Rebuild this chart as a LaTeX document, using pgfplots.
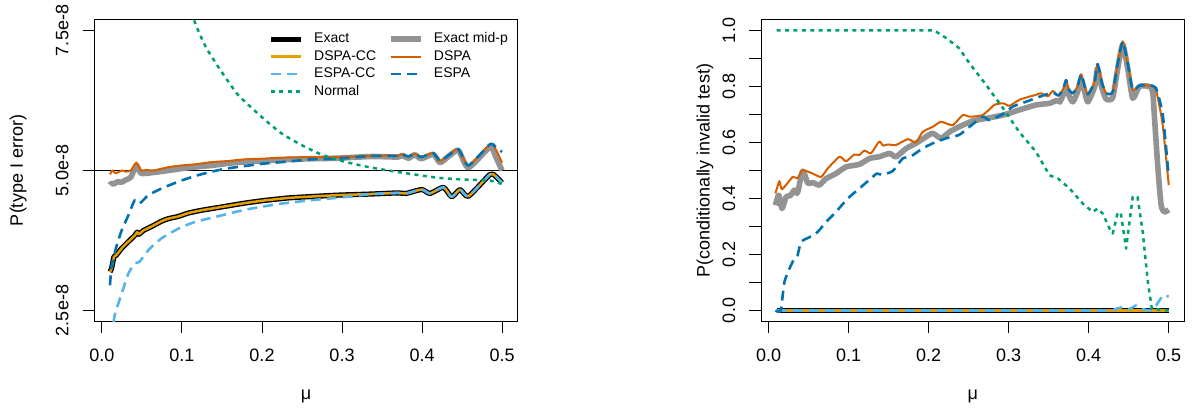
\documentclass[border=0pt]{standalone}
\usepackage{fontspec}
\setmainfont{Liberation Sans}
\usepackage{pgfplots}
\pgfplotsset{compat=1.18}
\definecolor{cdspacc}{HTML}{E69F00}
\definecolor{cdspa}{HTML}{D55E00}
\definecolor{cespacc}{HTML}{56B4E9}
\definecolor{cespa}{HTML}{0072B2}
\definecolor{cnormal}{HTML}{009E73}
\definecolor{cmidp}{HTML}{939393}
\pgfplotsset{
  panel/.style={
    scale only axis, width=211.7pt, height=151.2pt,
    xmin=-0.0096, xmax=0.5196,
    xtick={0,0.1,0.2,0.3,0.4,0.5},
    xticklabels={0.0,0.1,0.2,0.3,0.4,0.5},
    tick align=outside, tick pos=left,
    major tick length=5.8pt, minor tick length=5.8pt,
    axis line style={line width=0.5pt},
    every tick/.style={black, line width=0.5pt},
    tick label style={font=\fontsize{9}{10}\selectfont},
    xticklabel style={anchor=center},
    xticklabel shift=10.85pt,
    yticklabel style={rotate=90, anchor=center},
    yticklabel shift=10.3pt,
    xlabel={μ},
    xlabel style={at={(axis description cs:0.5,-0.248)}, anchor=center, font=\fontsize{9}{10}\selectfont},
    label style={font=\fontsize{9}{10}\selectfont},
  },
  cexact/.style={black, line width=2.6pt, line join=round, forget plot},
  cmid/.style={cmidp, line width=2.8pt, line join=round, forget plot},
  cdcc/.style={cdspacc, line width=1.25pt, line join=round, forget plot},
  cd/.style={cdspa, line width=1pt, line join=round, forget plot},
  cecc/.style={cespacc, line width=1.3pt, dash pattern=on 5pt off 3pt, line join=round, forget plot},
  ce/.style={cespa, line width=1.3pt, dash pattern=on 5pt off 3pt, line join=round, forget plot},
  cn/.style={cnormal, line width=1.25pt, dash pattern=on 2pt off 2.2pt, line join=round, forget plot},
}
\begin{document}
\begin{tikzpicture}
\path[use as bounding box] (0,0) rectangle (596pt,205pt);
% ---------------- left panel ----------------
\begin{axis}[panel,
  at={(47.15pt,44.15pt)}, anchor=south west,
  ymin=2.3, ymax=7.7,
  ytick={2.5,5,7.5}, yticklabels={2.5e-8,5.0e-8,7.5e-8},
  ylabel={P(type I error)},
  ylabel style={at={(axis description cs:-0.1795,0.5)}, rotate=0, anchor=center},
  legend columns=2,
  legend cell align=left,
  legend image code/.code={\draw[#1] (0pt,0pt) -- (15pt,0pt);},
  legend style={at={(axis description cs:0.396,0.976)}, anchor=north west,
    draw=none, fill=none, font=\fontsize{7}{8}\selectfont,
    nodes={inner sep=0.8pt, text height=5.2pt, text depth=1.5pt},
    row sep=0.4pt,
    /tikz/every odd column/.append style={column sep=4.5pt},
    /tikz/every even column/.append style={column sep=5pt}},
]
\addlegendimage{black, line width=2.6pt}
\addlegendentry{Exact}
\addlegendimage{cmidp, line width=2.8pt}
\addlegendentry{Exact mid-p}
\addlegendimage{cdspacc, line width=1.25pt}
\addlegendentry{DSPA-CC}
\addlegendimage{cdspa, line width=1pt}
\addlegendentry{DSPA}
\addlegendimage{cespacc, line width=1.3pt, dash pattern=on 5pt off 3pt}
\addlegendentry{ESPA-CC}
\addlegendimage{cespa, line width=1.3pt, dash pattern=on 5pt off 3pt}
\addlegendentry{ESPA}
\addlegendimage{cnormal, line width=1.25pt, dash pattern=on 2pt off 2.2pt}
\addlegendentry{Normal}

\addplot[black, line width=0.5pt, forget plot] coordinates {(-0.02,5) (0.53,5)};

% Exact
\addplot[cexact, smooth, tension=0.35] coordinates {
(0.01,3.19) (0.012,3.25) (0.015,3.46) (0.018,3.49) (0.0246,3.61) (0.033,3.73) (0.041,3.84) (0.044,3.90) (0.046,3.86) (0.052,3.93) (0.062,4.00) (0.0746,4.095) (0.083,4.14) (0.0954,4.18) (0.108,4.24) (0.1246,4.29) (0.15,4.35) (0.175,4.41) (0.2,4.46) (0.233,4.51) (0.262,4.535) (0.295,4.56) (0.337,4.58) (0.37,4.60) (0.38,4.59) (0.3996,4.66) (0.41,4.59) (0.4267,4.70) (0.437,4.53) (0.4475,4.66) (0.458,4.54) (0.485,4.93) (0.4917,4.90) (0.5,4.78)};
% Exact mid-p
\addplot[cmid, smooth, tension=0.35] coordinates {
(0.01,4.74) (0.012,4.77) (0.015,4.76) (0.0196,4.80) (0.024,4.79) (0.0296,4.83) (0.036,4.88) (0.043,5.09) (0.0487,4.95) (0.062,4.96) (0.083,5.0) (0.108,5.05) (0.137,5.09) (0.166,5.14) (0.2,5.17) (0.241,5.20) (0.262,5.21) (0.295,5.22) (0.337,5.25) (0.37,5.24) (0.375,5.27) (0.383,5.22) (0.391,5.28) (0.399,5.21) (0.414,5.29) (0.4225,5.14) (0.433,5.25) (0.4454,5.36) (0.458,5.05) (0.485,5.42) (0.492,5.25) (0.5,5.0)};
% DSPA-CC
\addplot[cdcc, smooth, tension=0.35] coordinates {
(0.01,3.19) (0.012,3.25) (0.015,3.46) (0.018,3.49) (0.0246,3.61) (0.033,3.73) (0.041,3.84) (0.044,3.90) (0.046,3.86) (0.052,3.93) (0.062,4.00) (0.0746,4.095) (0.083,4.14) (0.0954,4.18) (0.108,4.24) (0.1246,4.29) (0.15,4.35) (0.175,4.41) (0.2,4.46) (0.233,4.51) (0.262,4.535) (0.295,4.56) (0.337,4.58) (0.37,4.60) (0.38,4.59) (0.3996,4.66) (0.41,4.59) (0.4267,4.70) (0.437,4.53) (0.4475,4.66) (0.458,4.54) (0.485,4.93) (0.4917,4.90) (0.5,4.78)};
% DSPA
\addplot[cd, smooth, tension=0.35] coordinates {
(0.01,4.93) (0.013,5.0) (0.017,4.95) (0.025,5.0) (0.03,4.98) (0.036,5.0) (0.043,5.14) (0.0487,5.0) (0.056,5.01) (0.0646,5.0) (0.083,5.06) (0.0996,5.09) (0.116,5.11) (0.137,5.15) (0.158,5.17) (0.179,5.20) (0.2,5.21) (0.225,5.23) (0.262,5.24) (0.295,5.24) (0.337,5.26) (0.36,5.27) (0.37,5.26) (0.375,5.29) (0.383,5.25) (0.391,5.30) (0.399,5.24) (0.414,5.31) (0.4225,5.17) (0.433,5.27) (0.4454,5.38) (0.458,5.09) (0.485,5.47) (0.492,5.38) (0.5,5.14)};
% ESPA-CC
\addplot[cecc, smooth, tension=0.35] coordinates {
(0.012,2.0) (0.016,2.42) (0.0246,2.80) (0.033,3.16) (0.041,3.34) (0.047,3.37) (0.058,3.58) (0.0746,3.79) (0.0954,3.96) (0.116,4.08) (0.15,4.20) (0.179,4.30) (0.22,4.40) (0.262,4.47) (0.3,4.52) (0.33,4.57) (0.337,4.58) (0.37,4.60) (0.38,4.59) (0.3996,4.66) (0.41,4.59) (0.4267,4.70) (0.437,4.53) (0.4475,4.66) (0.458,4.54) (0.485,4.93) (0.4917,4.90) (0.5,4.78)};
% ESPA
\addplot[ce, smooth, tension=0.35] coordinates {
(0.01,2.95) (0.012,3.28) (0.018,3.64) (0.0246,3.93) (0.033,4.20) (0.041,4.47) (0.047,4.41) (0.058,4.56) (0.0746,4.68) (0.0954,4.80) (0.116,4.90) (0.137,4.98) (0.158,5.04) (0.179,5.08) (0.2,5.12) (0.233,5.16) (0.262,5.20) (0.295,5.21) (0.337,5.26) (0.37,5.26) (0.375,5.29) (0.383,5.25) (0.391,5.30) (0.399,5.24) (0.414,5.31) (0.4225,5.17) (0.433,5.27) (0.4454,5.38) (0.458,5.09) (0.485,5.47) (0.492,5.42) (0.5,5.33)};
% Normal
\addplot[cn, smooth, tension=0.35] coordinates {
(0.10,8.4) (0.116,7.65) (0.13,7.2) (0.15,6.75) (0.17,6.35) (0.19,6.08) (0.204,5.90) (0.2246,5.66) (0.25,5.45) (0.275,5.28) (0.3,5.17) (0.33,5.07) (0.358,5.0) (0.39,4.93) (0.42,4.87) (0.45,4.84) (0.47,4.83) (0.485,4.82) (0.5,4.76)};
\end{axis}
% ---------------- right panel ----------------
\begin{axis}[panel,
  at={(380.5pt,44.15pt)}, anchor=south west,
  ymin=-0.04, ymax=1.04,
  ytick={0,0.2,0.4,0.6,0.8,1.0}, yticklabels={0.0,0.2,0.4,0.6,0.8,1.0},
  minor ytick={0.1,0.3,0.5,0.7,0.9},
  ylabel={P(conditionally invalid test)},
  ylabel style={at={(axis description cs:-0.1323,0.5)}, rotate=0, anchor=center},
]
% Exact
\addplot[cexact] coordinates {(0.01,0) (0.5,0)};
% Exact mid-p
\addplot[cmid, smooth, tension=0.35] coordinates {
(0.0084,0.376) (0.0125,0.412) (0.0167,0.364) (0.0217,0.406) (0.027,0.41) (0.032,0.43) (0.036,0.42) (0.0425,0.498) (0.049,0.454) (0.055,0.457) (0.0634,0.448) (0.0717,0.471) (0.084,0.489) (0.0967,0.513) (0.1134,0.522) (0.126,0.543) (0.138,0.549) (0.151,0.561) (0.159,0.549) (0.172,0.579) (0.184,0.597) (0.197,0.621) (0.205,0.633) (0.2155,0.615) (0.226,0.638) (0.238,0.656) (0.255,0.677) (0.272,0.686) (0.293,0.698) (0.313,0.716) (0.334,0.734) (0.351,0.74) (0.36,0.75) (0.364,0.745) (0.368,0.77) (0.3717,0.80) (0.375,0.77) (0.38,0.745) (0.386,0.78) (0.3905,0.825) (0.395,0.78) (0.399,0.745) (0.4075,0.80) (0.411,0.865) (0.416,0.80) (0.4217,0.755) (0.43,0.76) (0.436,0.86) (0.4425,0.95) (0.449,0.86) (0.455,0.758) (0.4634,0.80) (0.476,0.80) (0.48,0.78) (0.482,0.698) (0.4862,0.519) (0.4905,0.376) (0.4946,0.352) (0.5,0.36)};
% DSPA-CC
\addplot[cdcc] coordinates {(0.01,0) (0.5,0)};
% DSPA
\addplot[cd, smooth, tension=0.35] coordinates {
(0.0084,0.418) (0.0134,0.462) (0.0167,0.433) (0.03,0.477) (0.036,0.472) (0.0425,0.501) (0.055,0.489) (0.0655,0.477) (0.0737,0.507) (0.0884,0.549) (0.0967,0.533) (0.107,0.557) (0.113,0.555) (0.1196,0.571) (0.128,0.562) (0.138,0.603) (0.143,0.589) (0.149,0.593) (0.159,0.591) (0.174,0.612) (0.184,0.600) (0.1925,0.638) (0.205,0.656) (0.2155,0.674) (0.23,0.662) (0.2425,0.698) (0.251,0.692) (0.2675,0.698) (0.282,0.734) (0.293,0.740) (0.301,0.731) (0.313,0.752) (0.326,0.764) (0.334,0.77) (0.34,0.776) (0.349,0.765) (0.355,0.784) (0.362,0.768) (0.368,0.79) (0.3717,0.823) (0.375,0.79) (0.38,0.776) (0.386,0.80) (0.3905,0.844) (0.395,0.80) (0.399,0.772) (0.4075,0.817) (0.411,0.88) (0.416,0.817) (0.4217,0.776) (0.43,0.78) (0.436,0.877) (0.4425,0.961) (0.449,0.877) (0.455,0.788) (0.4634,0.803) (0.476,0.803) (0.484,0.788) (0.4925,0.662) (0.5,0.448)};
% ESPA-CC
\addplot[cecc] coordinates {(0.01,0) (0.43,0) (0.434,0.006) (0.442,0.012) (0.45,0.004) (0.459,0.018) (0.468,0.004) (0.476,0) (0.4843,0.018) (0.4925,0.054) (0.5,0.05)};
% ESPA
\addplot[ce, smooth, tension=0.35] coordinates {
(0.0084,0) (0.015,0) (0.0196,0.101) (0.026,0.15) (0.032,0.185) (0.036,0.196) (0.0405,0.245) (0.051,0.262) (0.061,0.28) (0.0717,0.316) (0.084,0.352) (0.0988,0.40) (0.1134,0.436) (0.13,0.477) (0.135,0.489) (0.142,0.485) (0.155,0.498) (0.1675,0.543) (0.177,0.549) (0.1925,0.579) (0.205,0.597) (0.2217,0.615) (0.238,0.627) (0.251,0.656) (0.2675,0.692) (0.276,0.68) (0.2946,0.704) (0.305,0.728) (0.326,0.75) (0.34,0.765) (0.355,0.778) (0.362,0.768) (0.368,0.79) (0.3717,0.823) (0.375,0.79) (0.38,0.776) (0.386,0.80) (0.3905,0.844) (0.395,0.80) (0.399,0.772) (0.4075,0.817) (0.411,0.88) (0.416,0.817) (0.4217,0.776) (0.43,0.78) (0.436,0.877) (0.4425,0.961) (0.449,0.877) (0.455,0.788) (0.4634,0.803) (0.476,0.803) (0.484,0.795) (0.4925,0.70) (0.4994,0.495)};
% Normal
\addplot[cn] coordinates {
(0.01,1) (0.207,1) (0.2217,0.973) (0.238,0.937) (0.2509,0.883) (0.2717,0.806) (0.293,0.722) (0.313,0.638) (0.334,0.567) (0.351,0.483) (0.3617,0.471) (0.376,0.436) (0.3925,0.382) (0.405,0.352) (0.411,0.364) (0.4175,0.346) (0.426,0.2925) (0.43,0.275) (0.436,0.346) (0.44,0.35) (0.4467,0.221) (0.455,0.406) (0.461,0.406) (0.4675,0.28) (0.474,0.10) (0.479,0.006) (0.5,0)};
\end{axis}
\end{tikzpicture}
\end{document}
